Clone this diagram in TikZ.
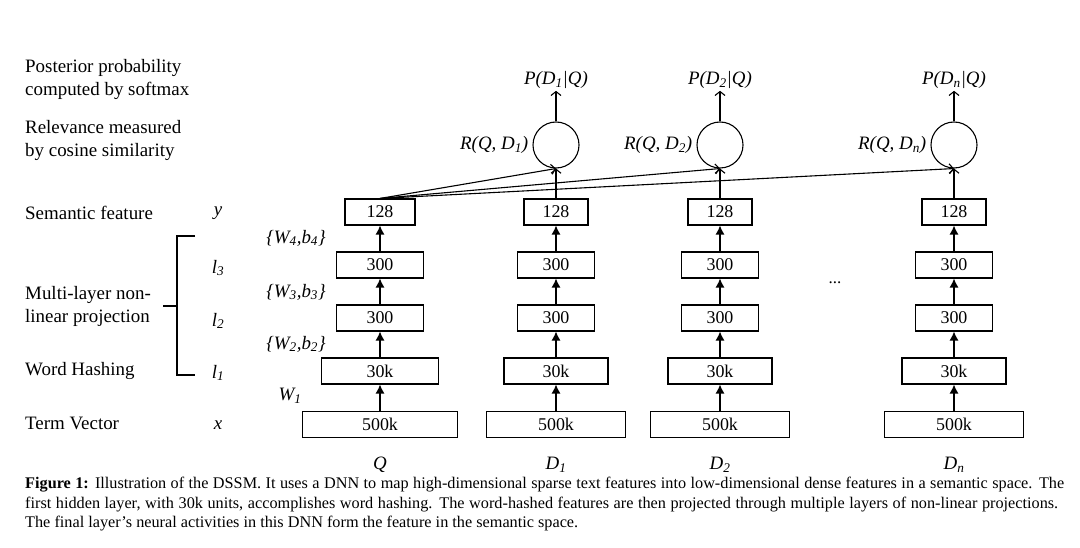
\documentclass[tikz,border=0pt]{standalone}
\usepackage{fontspec}
\setmainfont{Liberation Serif}
\usetikzlibrary{arrows.meta}
\begin{document}
\begin{tikzpicture}[x=1bp,y=-1bp,
  lay/.style={draw, line width=1.1bp, minimum height=26bp, inner sep=0pt, font=\fontsize{18}{20}\selectfont},
  lbl/.style={anchor=west, align=left, inner sep=0pt, font=\fontsize{19}{23}\selectfont},
  var/.style={inner sep=0pt, font=\fontsize{19}{23}\selectfont\itshape},
  fillarrow/.style={line width=1.2bp, -{Latex[length=9bp,width=9bp]}},
  openarrow/.style={line width=1.1bp, -{Straight Barb[length=4bp,width=10bp]}},
  sim/.style={circle, draw, line width=1.1bp, minimum size=46bp, inner sep=0pt}]
\useasboundingbox (0,0) rectangle (1080,548);
\fill[white] (0,0) rectangle (1080,548);

% left labels
\node[lbl] (post) at (25,79.5) {Posterior probability\\computed by softmax};
\node[lbl] (rel) at (25,140.5) {Relevance measured\\by cosine similarity};
\node[lbl] (sem) at (25,213) {Semantic feature};
\node[lbl] (mlp) at (25,306.5) {Multi-layer non-\\linear projection};
\node[lbl] (wh) at (25,371) {Word Hashing};
\node[lbl] (tv) at (25,423) {Term Vector};

% bracket
\draw[line width=1.1bp] (195,236) -- (177,236) -- (177,375) -- (195,375);
\draw[line width=1.1bp] (177,306) -- (163,306);

% variables
\node[var] (vy) at (218,213) {y};
\node[var] (vl3) at (218,268) {l\textsubscript{3}};
\node[var] (vl2) at (218,321) {l\textsubscript{2}};
\node[var] (vl1) at (218,373) {l\textsubscript{1}};
\node[var] (vx) at (218,425) {x};
\node[var] (w4) at (296,238) {\{W\textsubscript{4},b\textsubscript{4}\}};
\node[var] (w3) at (296,292) {\{W\textsubscript{3},b\textsubscript{3}\}};
\node[var] (w2) at (296,344) {\{W\textsubscript{2},b\textsubscript{2}\}};
\node[var] (w1) at (290,396) {W\textsubscript{1}};

% columns
\foreach \col/\xx/\wA/\wB/\wC/\wD in {q/380/70/87/117/155, a/556/64/77/104/139, b/720/64/77/104/139, n/954/64/77/104/139}{
  \node[lay, minimum width=\wD bp] (\col1) at (\xx,424.5) {500k};
  \node[lay, minimum width=\wC bp] (\col2) at (\xx,371) {30k};
  \node[lay, minimum width=\wB bp] (\col3) at (\xx,318) {300};
  \node[lay, minimum width=\wB bp] (\col4) at (\xx,265) {300};
  \node[lay, minimum width=\wA bp] (\col5) at (\xx,212) {128};
  \draw[fillarrow] (\col1) -- (\col2);
  \draw[fillarrow] (\col2) -- (\col3);
  \draw[fillarrow] (\col3) -- (\col4);
  \draw[fillarrow] (\col4) -- (\col5);
}

% bottom labels
\node[var] (lq) at (380,465) {Q};
\node[var] (la) at (556,465) {D\textsubscript{1}};
\node[var] (lb) at (720,465) {D\textsubscript{2}};
\node[var] (ln) at (954,465) {D\textsubscript{n}};

% dots
\node[var, font=\fontsize{17}{20}\selectfont] (dots) at (835,283) {...};

% similarity circles and outputs
\foreach \col/\xx/\sb in {a/556/1, b/720/2, n/954/n}{
  \node[sim] (s\col) at (\xx,145) {};
  \node[var, anchor=east] (r\col) at ([xshift=-4bp]s\col.west) {R(Q, D\textsubscript{\sb})};
  \node[var] (p\col) at (\xx,80) {P(D\textsubscript{\sb}|Q)};
  \draw[openarrow] (s\col.north) -- ([yshift=-2bp]p\col.south);
  \draw[openarrow] (\col5.north) -- (s\col.south);
  \draw[openarrow] (q5.north) -- (s\col.south);
}

% caption
\node[anchor=north west, align=left, inner sep=0pt, font=\fontsize{16.3}{19.5}\selectfont] (cap) at (25,477) {\makebox[1039bp][s]{\textbf{Figure 1:} Illustration of the DSSM. It uses a DNN to map high-dimensional sparse text features into low-dimensional dense features in a semantic space. The}\\
\makebox[1033bp][s]{first hidden layer, with 30k units, accomplishes word hashing. The word-hashed features are then projected through multiple layers of non-linear projections.}\\
The final layer’s neural activities in this DNN form the feature in the semantic space.};
\end{tikzpicture}
\end{document}
